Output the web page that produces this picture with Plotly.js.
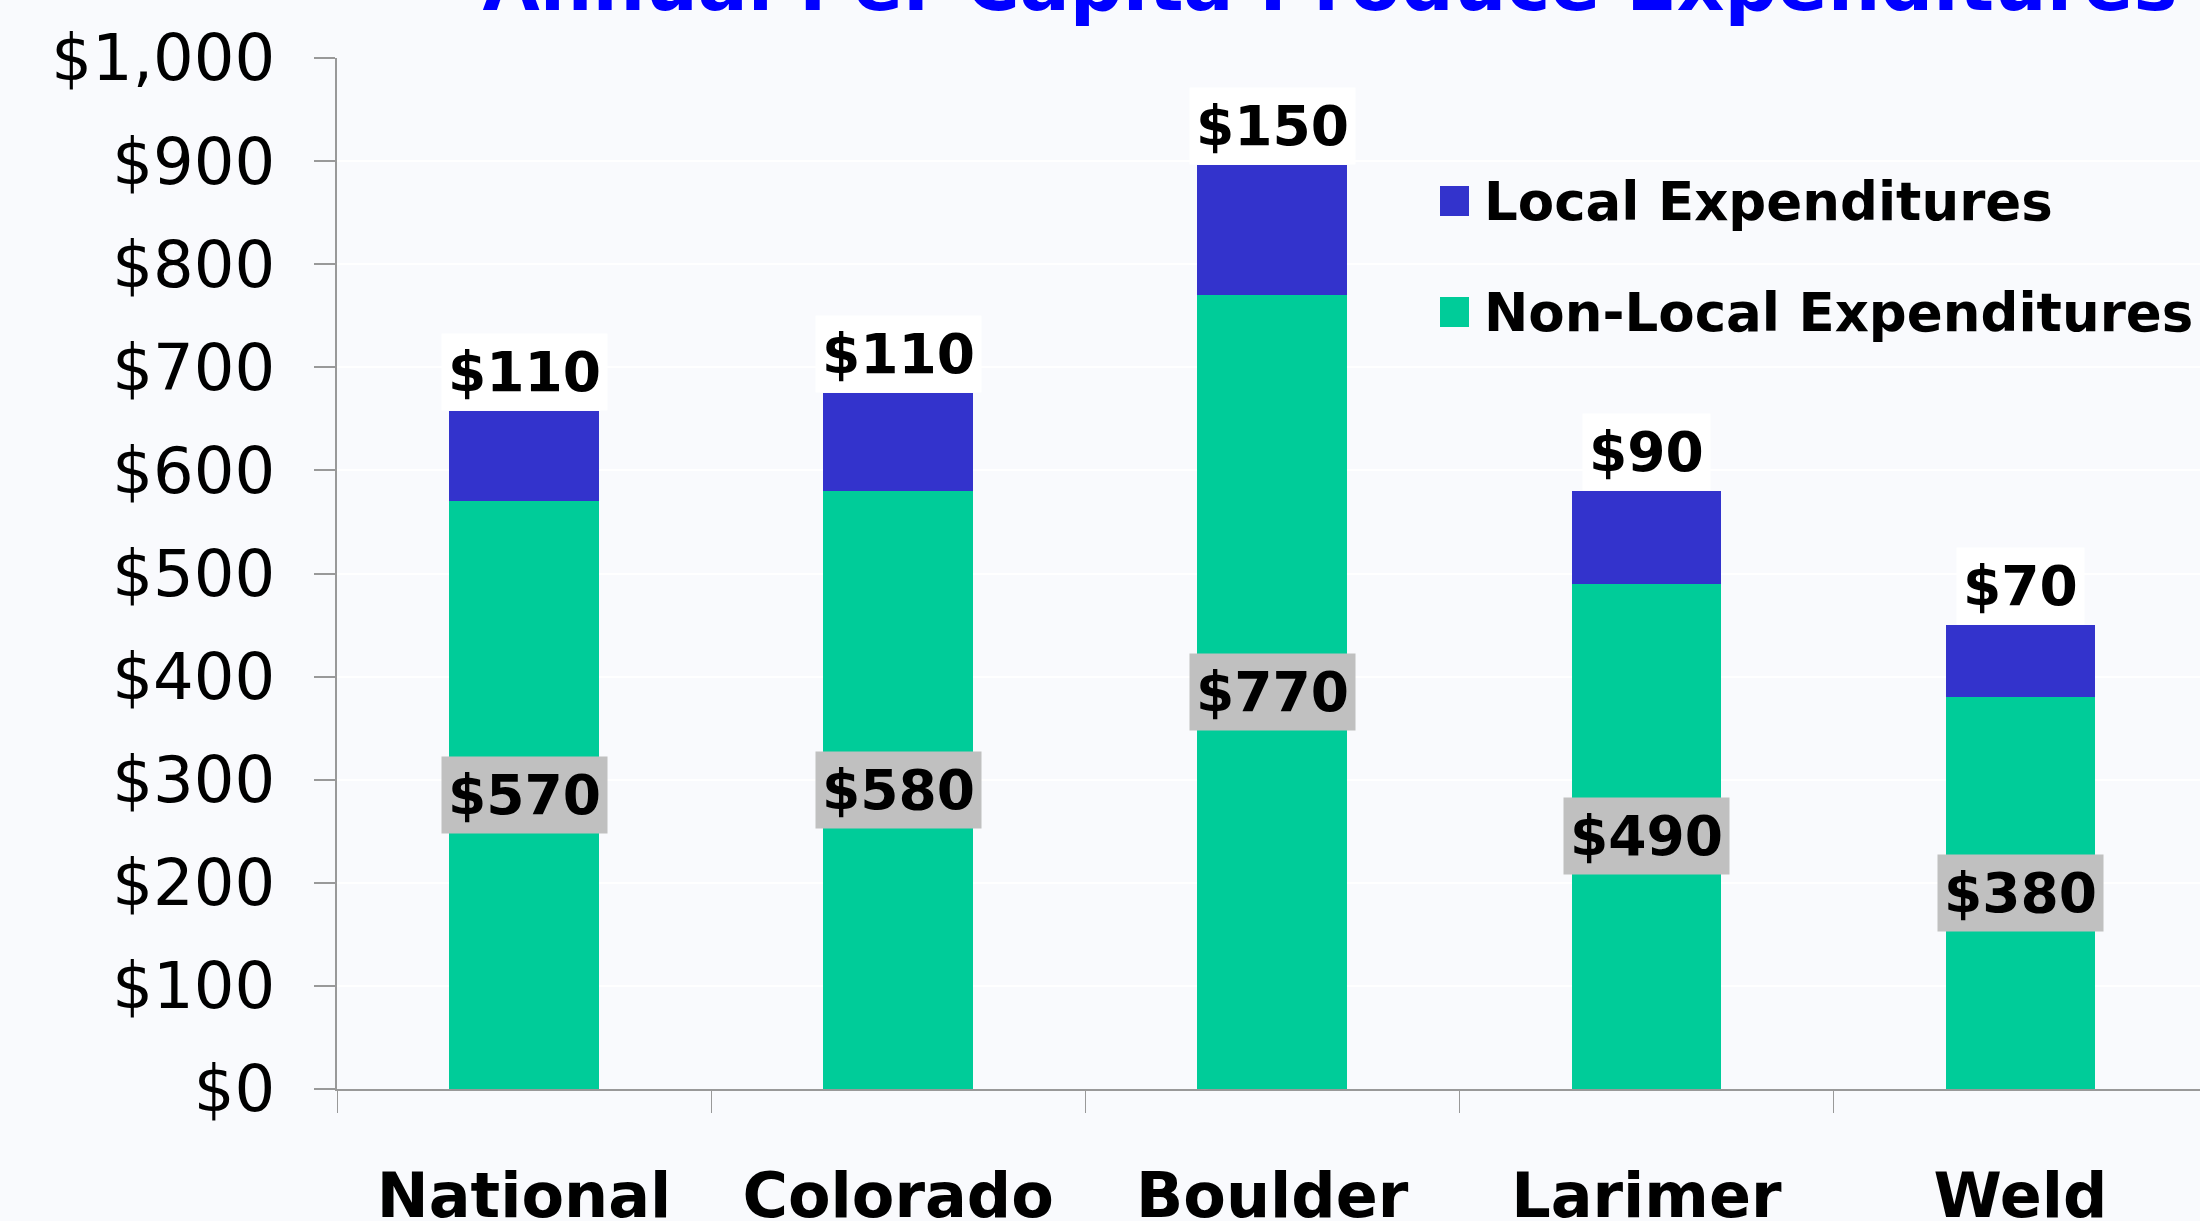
<!DOCTYPE html>
<html><head><meta charset="utf-8">
<script src="https://cdn.plot.ly/plotly-3.0.1.min.js"></script>
<style>html,body{margin:0;padding:0;background:#f9fafd;}#chart{width:2200px;height:1221px;}</style>
</head><body><div id="chart"></div>
<script>
const categories = ['National', 'Colorado', 'Boulder', 'Larimer', 'Weld'];
const nonLocalValues = [570, 580, 770, 490, 380];
const localValues = [88, 95, 126, 90, 70];
const nonLocalLabels = ['$570', '$580', '$770', '$490', '$380'];
const localLabels = ['$110', '$110', '$150', '$90', '$70'];
const seriesNames = ['Local Expenditures', 'Non-Local Expenditures'];
const chartTitle = 'Annual Per Capita Produce Expenditures';

const GREEN = '#00cc99', BLUE = '#3333cc', BG = '#f9fafd';
const W = 2200, H = 1221;
const M = {l: 337, r: 0, t: 58, b: 132};
const PW = W - M.l - M.r, PH = H - M.t - M.b;
const px = x => (x - M.l) / PW;
const py = y => (H - M.b - y) / PH;

const traces = [
  {type: 'bar', name: seriesNames[1], x: categories, y: nonLocalValues,
   marker: {color: GREEN, line: {width: 0}}, hoverinfo: 'x+y', showlegend: false},
  {type: 'bar', name: seriesNames[0], x: categories, y: localValues,
   marker: {color: BLUE, line: {width: 0}}, hoverinfo: 'x+y', showlegend: false}
];

const labelFont = {family: 'DejaVu Sans', size: 55, color: '#000', weight: 'bold'};
const annotations = [];
categories.forEach((c, i) => {
  annotations.push({x: c, y: nonLocalValues[i] + localValues[i], xref: 'x', yref: 'y',
    text: localLabels[i], showarrow: false, yanchor: 'bottom', xanchor: 'center',
    bgcolor: '#ffffff', borderpad: 6, font: labelFont});
  annotations.push({x: c, y: nonLocalValues[i] / 2, xref: 'x', yref: 'y',
    text: nonLocalLabels[i], showarrow: false, yanchor: 'middle', xanchor: 'center',
    bgcolor: '#c0c0c0', borderpad: 6, font: labelFont});
});

// manual legend
const legendFont = {family: 'DejaVu Sans', size: 53, color: '#000', weight: 'bold'};
const legendColors = [BLUE, GREEN];
const legendRows = [201, 312];
const shapes = [];
seriesNames.forEach((n, i) => {
  const cy = legendRows[i];
  shapes.push({type: 'rect', xref: 'paper', yref: 'paper',
    x0: px(1440), x1: px(1469), y0: py(cy + 15), y1: py(cy - 15),
    fillcolor: legendColors[i], line: {width: 0}});
  annotations.push({xref: 'paper', yref: 'paper', x: px(1482), y: py(cy),
    xanchor: 'left', yanchor: 'middle', text: n, showarrow: false, font: legendFont});
});

const layout = {
  width: W, height: H,
  margin: M,
  paper_bgcolor: BG, plot_bgcolor: BG,
  barmode: 'stack', bargap: 0.6,
  title: {text: chartTitle, font: {family: 'DejaVu Sans', size: 74, color: '#0000ff', weight: 'bold'},
    xref: 'container', yref: 'container', x: 1330 / W, xanchor: 'center',
    y: 1 - 10 / H, yanchor: 'bottom'},
  xaxis: {type: 'category', range: [-0.5, 4.48], tickson: 'boundaries', ticks: 'outside',
    ticklen: 22, tickwidth: 1, tickcolor: '#999999', showline: true, linecolor: '#999999',
    linewidth: 2, showgrid: false, zeroline: false,
    tickfont: {family: 'DejaVu Sans', size: 62, color: '#000', weight: 'bold'},
    ticklabelstandoff: 52},
  yaxis: {range: [0, 1000], dtick: 100, tick0: 0, tickprefix: '$', tickformat: ',d',
    ticks: 'outside', ticklen: 21, tickwidth: 2, tickcolor: '#999999',
    showline: true, linecolor: '#999999', linewidth: 2,
    showgrid: true, gridcolor: '#ffffff', gridwidth: 2, zeroline: false,
    tickfont: {family: 'DejaVu Sans', size: 64, color: '#000'},
    ticklabelstandoff: 26},
  annotations: annotations,
  shapes: shapes,
  showlegend: false
};

Plotly.newPlot('chart', traces, layout, {displayModeBar: false, staticPlot: true});
</script>
</body></html>
